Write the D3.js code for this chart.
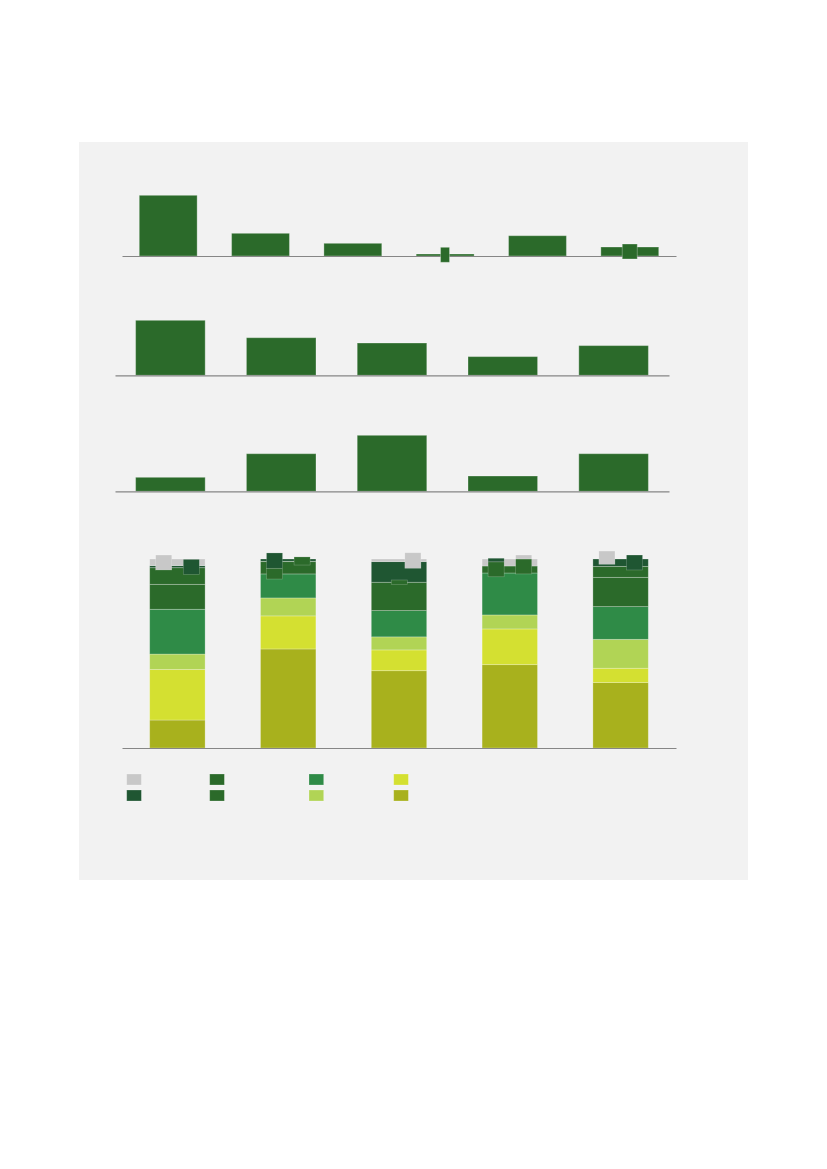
<!DOCTYPE html>
<html>
<head>
<meta charset="utf-8">
<script src="https://cdn.jsdelivr.net/npm/d3@7"></script>
<style>
  html, body { margin: 0; padding: 0; background: #ffffff; }
  svg { display: block; font-family: "Liberation Sans", Arial, sans-serif; }
</style>
</head>
<body>
<svg id="chart" width="827" height="1169"></svg>
<script>
// ---------- DATA ----------
// Panel 1: six categories
const cats1 = ["A", "B", "C", "D", "E", "F"];
const values1 = [6.07, 2.27, 1.27, 0.2, 2.03, 0.9];
// narrow overlay marks in panel 1 (category, low, high)
const marks1 = [
  { cat: "D", lo: -0.63, hi: 0.87, frac: 0.42, w: 9 },
  { cat: "F", lo: -0.30, hi: 1.20, frac: 0.37, w: 15 }
];

// Panels 2 and 3: five categories
const cats5 = ["1", "2", "3", "4", "5"];
const values2 = [5.5, 3.76, 3.23, 1.87, 2.97];
const values3 = [1.4, 3.76, 5.6, 1.53, 3.76];

// Panel 4: 100% stacked, series listed bottom to top
const seriesKeys = ["s8", "s7", "s6", "s5", "s4", "s3", "s2", "s1"];
const seriesColors = {
  s1: "#c8c8c8", s2: "#1f5632", s3: "#2b6a2a", s4: "#2b6a2a",
  s5: "#2f8b47", s6: "#b1d455", s7: "#d4e031", s8: "#a8b11d"
};
const s8 = [14.8, 52.4, 40.9, 44.1, 34.6];
const s7 = [26.8, 17.5, 11.0, 18.9, 7.6];
const s6 = [8.1, 9.5, 6.9, 7.4, 15.3];
const s5 = [23.7, 12.7, 13.9, 22.2, 17.3];
const s4 = [13.2, 6.5, 15.0, 3.7, 15.5];
const s3 = [8.8, 0.2, 0.0, 0.0, 5.8];
const s2 = [1.1, 1.2, 10.9, 0.0, 3.9];
const s1 = [3.5, 0.0, 1.4, 3.7, 0.0];
// small overlay squares in panel 4 (category index, series, low%, high%, slot)
const marks4 = [
  { i: 0, s: "s1", lo: 94.2, hi: 102.1, slot: 0 },
  { i: 0, s: "s2", lo: 91.9, hi: 99.8, slot: 2 },
  { i: 1, s: "s3", lo: 89.4, hi: 95.1, slot: 0 },
  { i: 1, s: "s2", lo: 95.1, hi: 103.2, slot: 0 },
  { i: 1, s: "s3", lo: 96.8, hi: 101.1, slot: 2 },
  { i: 2, s: "s4", lo: 86.5, hi: 88.9, slot: 1 },
  { i: 2, s: "s1", lo: 95.1, hi: 103.3, slot: 2 },
  { i: 3, s: "s3", lo: 90.6, hi: 98.5, slot: 0 },
  { i: 3, s: "s2", lo: 98.5, hi: 100.4, slot: 0 },
  { i: 3, s: "s3", lo: 92.1, hi: 100.0, slot: 2 },
  { i: 3, s: "s1", lo: 100.0, hi: 102.1, slot: 2 },
  { i: 4, s: "s1", lo: 97.2, hi: 104.2, slot: 0 },
  { i: 4, s: "s2", lo: 94.2, hi: 102.1, slot: 2 }
];
// legend order (column-major)
const legendOrder = ["s1", "s2", "s3", "s4", "s5", "s6", "s7", "s8"];

// ---------- DRAW ----------
const svg = d3.select("#chart");
svg.append("rect").attr("x", 79).attr("y", 142).attr("width", 669).attr("height", 738)
  .attr("fill", "#f2f2f2");

const barGreen = "#2b6a2a";
const edge = "rgba(255,255,255,0.3)";

function axisLine(g, x, y0) {
  g.append("g").attr("transform", `translate(0,${y0})`)
    .call(d3.axisBottom(x).tickSize(0).tickFormat(""))
    .call(a => a.select(".domain").attr("stroke", "#868686").attr("stroke-width", 1.2));
}

// Panel 1
{
  const g = svg.append("g");
  const x = d3.scaleBand().domain(cats1).range([122, 676]).paddingInner(0.373).paddingOuter(0.187);
  const y = d3.scaleLinear().domain([-1, 7]).range([266, 186]);
  g.selectAll("rect.bar").data(values1).join("rect").attr("class", "bar")
    .attr("x", (d, i) => x(cats1[i])).attr("width", x.bandwidth())
    .attr("y", d => y(Math.max(0, d))).attr("height", d => Math.abs(y(d) - y(0)))
    .attr("fill", barGreen).attr("stroke", edge).attr("stroke-width", 1);
  axisLine(g, x, y(0));
  g.selectAll("rect.mark").data(marks1).join("rect").attr("class", "mark")
    .attr("x", d => x(d.cat) + x.bandwidth() * d.frac).attr("width", d => d.w)
    .attr("y", d => y(d.hi)).attr("height", d => y(d.lo) - y(d.hi))
    .attr("fill", barGreen).attr("stroke", edge).attr("stroke-width", 1);
}

// Panels 2 & 3
function simplePanel(vals, base) {
  const g = svg.append("g");
  const x = d3.scaleBand().domain(cats5).range([115, 669]).paddingInner(0.372).paddingOuter(0.186);
  const y = d3.scaleLinear().domain([0, 6]).range([base, base - 60]);
  g.selectAll("rect").data(vals).join("rect")
    .attr("x", (d, i) => x(cats5[i])).attr("width", x.bandwidth())
    .attr("y", d => y(d)).attr("height", d => y(0) - y(d))
    .attr("fill", barGreen).attr("stroke", edge).attr("stroke-width", 1);
  axisLine(g, x, y(0));
}
simplePanel(values2, 375.3);
simplePanel(values3, 491.3);

// Panel 4
{
  const g = svg.append("g");
  const seriesData = { s1, s2, s3, s4, s5, s6, s7, s8 };
  const rows = cats5.map((c, i) => {
    const o = { cat: c };
    seriesKeys.forEach(k => o[k] = seriesData[k][i]);
    return o;
  });
  const x = d3.scaleBand().domain(cats5).range([122, 676]).paddingInner(0.5).paddingOuter(0.25);
  const y = d3.scaleLinear().domain([0, 100]).range([748, 559]);
  const stacked = d3.stack().keys(seriesKeys)(rows);
  g.selectAll("g.layer").data(stacked).join("g").attr("class", "layer")
    .attr("fill", d => seriesColors[d.key])
    .selectAll("rect").data(d => d.filter(p => p[1] - p[0] > 0)).join("rect")
    .attr("x", d => x(d.data.cat)).attr("width", x.bandwidth())
    .attr("y", d => y(d[1])).attr("height", d => y(d[0]) - y(d[1]))
    .attr("stroke", edge).attr("stroke-width", 0.8);
  axisLine(g, x, y(0));
  const slotFrac = [0.108, 0.36, 0.606];
  const mw = x.bandwidth() * 0.29;
  g.selectAll("rect.mark").data(marks4).join("rect").attr("class", "mark")
    .attr("x", d => x(cats5[d.i]) + x.bandwidth() * slotFrac[d.slot]).attr("width", mw)
    .attr("y", d => y(d.hi)).attr("height", d => y(d.lo) - y(d.hi))
    .attr("fill", d => seriesColors[d.s]).attr("stroke", edge).attr("stroke-width", 0.6);

  // Legend
  const colX = [126.7, 209.7, 309, 393.7];
  const rowY = [774, 790];
  svg.append("g").selectAll("rect").data(legendOrder).join("rect")
    .attr("x", (d, i) => colX[Math.floor(i / 2)]).attr("y", (d, i) => rowY[i % 2])
    .attr("width", 14.7).attr("height", 11)
    .attr("fill", d => seriesColors[d]).attr("stroke", edge).attr("stroke-width", 0.8);
}
</script>
</body>
</html>
